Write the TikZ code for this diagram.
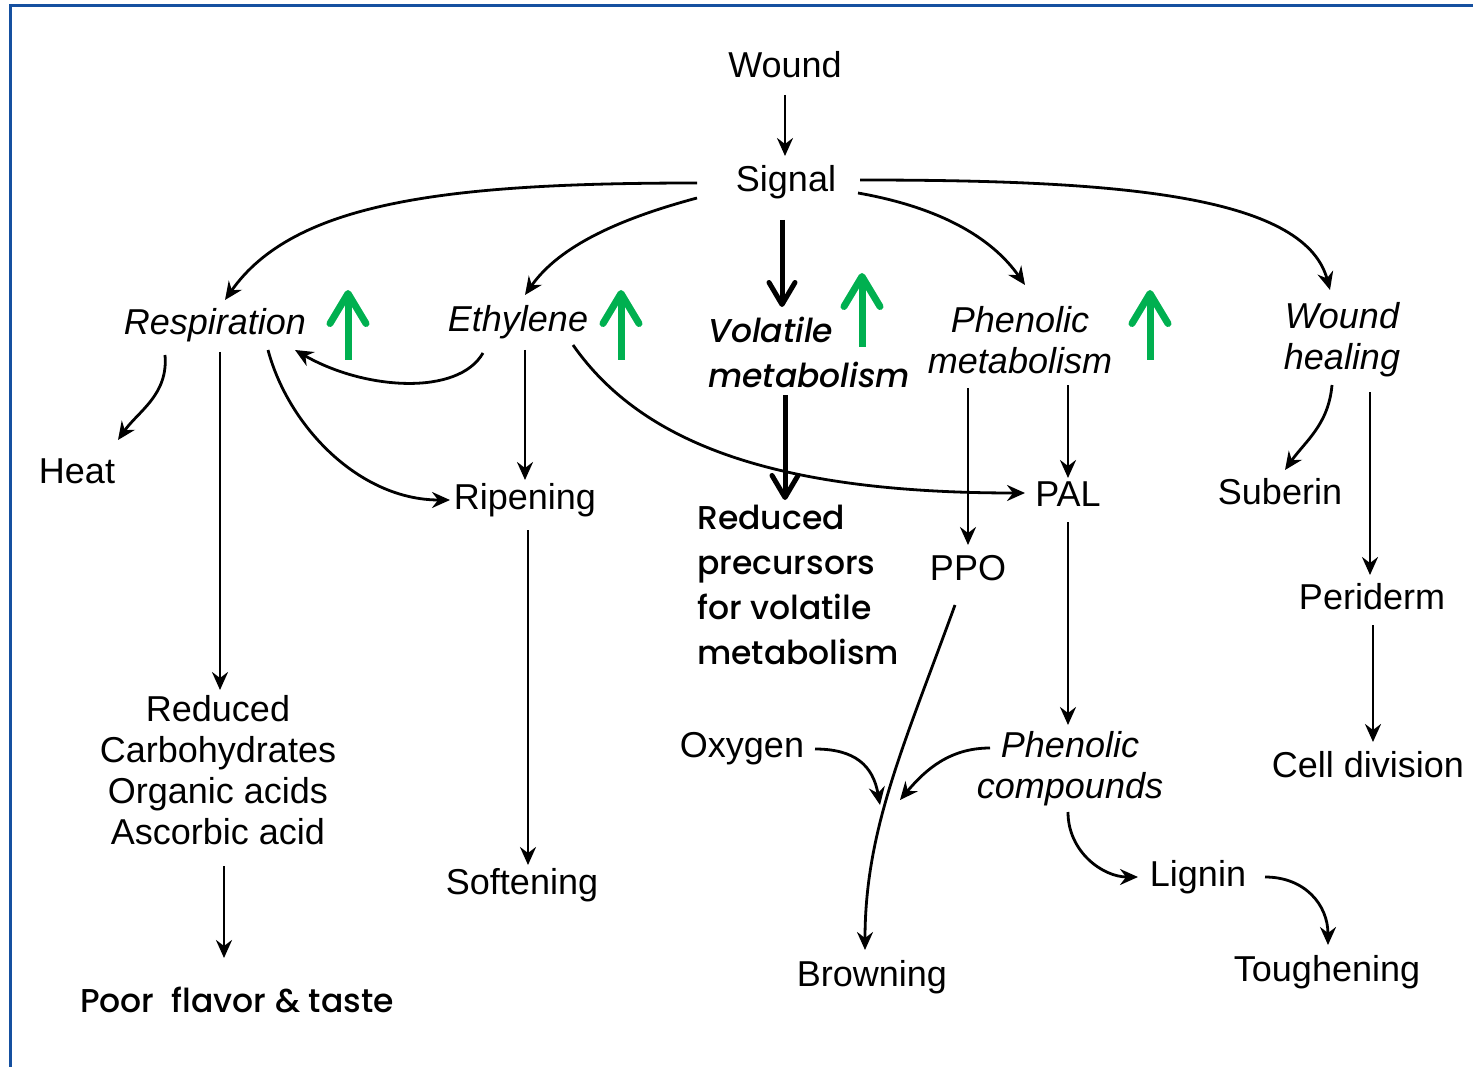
\documentclass[tikz,border=0pt]{standalone}
\usepackage{fontspec}
\setmainfont{Liberation Sans}
\newfontfamily\popfont{Poppins}[UprightFont=* Medium,ItalicFont=* Medium Italic]
\usetikzlibrary{arrows.meta}
\definecolor{frameblue}{RGB}{21,80,160}
\definecolor{upgreen}{RGB}{0,176,80}

\begin{document}
\begin{tikzpicture}[x=1pt,y=1pt]
	\tikzstyle{every node}+=[inner sep=0pt,font=\fontsize{36}{41}\selectfont]
	\tikzstyle{slant}=[font=\fontsize{36}{41}\selectfont\itshape]
	\tikzstyle{flow}=[line width=2.8pt,-{Stealth[length=18pt,width=16pt,inset=6pt]}]
	\tikzstyle{added}=[line width=5pt,-{Straight Barb[round,length=22pt,width=26pt]}]
	\tikzstyle{rise}=[upgreen,line width=7pt,-{Straight Barb[round,length=30pt,width=36pt]}]
	\tikzstyle{newtext}=[font=\popfont\fontsize{33}{45}\selectfont,align=left,anchor=west]
	\tikzstyle{newslant}=[newtext,font=\popfont\fontsize{33}{45}\selectfont\itshape]
	\useasboundingbox (0,0) rectangle (1473,-1067);
	\draw [frameblue,line width=3pt] (10.5,-1067) -- (10.5,-6) -- (1473,-6);
	% terms
	\draw (785,-65) node (wound) {Wound};
	\draw (786,-182) node (signal) {Signal};
	\draw (215,-325) node [slant] (resp) {Respiration};
	\draw (518,-322) node [slant] (eth) {Ethylene};
	\draw (708,-352) node [newslant] (vol) {Volatile\\metabolism};
	\draw (1020,-340) node [slant,align=center] (phen) {Phenolic\\metabolism};
	\draw (1342,-340) node [slant,align=center] (wheal) {Wound\\healing};
	\draw (77,-471) node (heat) {Heat};
	\draw (525,-500) node (ripe) {Ripening};
	\draw (1068,-494) node (pal) {PAL};
	\draw (1280,-492) node (suberin) {Suberin};
	\draw (697,-585) node [newtext] (prec) {Reduced\\precursors\\for volatile\\metabolism};
	\draw (968,-568) node (ppo) {PPO};
	\draw (1372,-597) node (peri) {Periderm};
	\draw (218,-770) node [align=center] (redu) {Reduced\\Carbohydrates\\Organic acids\\Ascorbic acid};
	\draw (742,-749) node (oxy) {Oxygen};
	\draw (1070,-769) node [slant,align=center] (phcomp) {Phenolic\\compounds};
	\draw (1368,-765) node (cell) {Cell division};
	\draw (522,-885) node (soft) {Softening};
	\draw (1198,-877) node (lignin) {Lignin};
	\draw (872,-977) node (brown) {Browning};
	\draw (1327,-972) node (tough) {Toughening};
	\draw (80,-1000) node [newtext] (poor) {Poor\ \ flavor \& taste};
	\coordinate (oxyin) at (880,-805);
	\coordinate (compin) at (900,-800);
	% connectors
	\draw [flow] ([yshift=-30pt]wound.center) -- ([xshift=-1pt,yshift=26pt]signal.center);
	\draw [flow] ([xshift=-89pt,yshift=-1pt]signal.center) .. controls +(180:250) and +(55:120) .. ([xshift=10pt,yshift=25pt]resp.center);
	\draw [flow] ([xshift=-89pt,yshift=-16pt]signal.center) .. controls +(195:80) and +(55:60) .. ([xshift=7pt,yshift=27pt]eth.center);
	\draw [added] ([xshift=-4pt,yshift=-38pt]signal.center) -- ([xshift=74pt,yshift=45pt]vol.west);
	\draw [flow] ([xshift=72pt,yshift=-11pt]signal.center) .. controls +(-10:80) and +(125:60) .. ([xshift=5pt,yshift=55pt]phen.center);
	\draw [flow] ([xshift=74pt,yshift=2pt]signal.center) .. controls +(0:250) and +(105:100) .. ([xshift=-12pt,yshift=50pt]wheal.center);
	\draw [flow] ([xshift=-50pt,yshift=-30pt]resp.center) .. controls +(-85:40) and +(55:35) .. ([xshift=41pt,yshift=31pt]heat.center);
	\draw [flow] ([xshift=5pt,yshift=-27pt]resp.center) -- ([xshift=2pt,yshift=80pt]redu.center);
	\draw [flow] ([xshift=53pt,yshift=-25pt]resp.center) .. controls +(-75:80) and +(180:90) .. ([xshift=-75pt]ripe.center);
	\draw [flow] ([xshift=-35pt,yshift=-31pt]eth.center) .. controls +(-120:50) and +(-30:80) .. ([xshift=80pt,yshift=-25pt]resp.center);
	\draw [flow] ([xshift=7pt,yshift=-28pt]eth.center) -- ([yshift=20pt]ripe.center);
	\draw [flow] ([xshift=55pt,yshift=-23pt]eth.center) .. controls +(-55:120) and +(180:250) .. ([xshift=-43pt,yshift=1pt]pal.center);
	\draw [flow] ([xshift=3pt,yshift=-30pt]ripe.center) -- ([xshift=6pt,yshift=20pt]soft.center);
	\draw [added] ([xshift=77pt,yshift=-43pt]vol.west) -- ([xshift=88pt,yshift=85pt]prec.west);
	\draw [flow] ([xshift=-52pt,yshift=-48pt]phen.center) -- ([yshift=23pt]ppo.center);
	\draw [flow] ([xshift=48pt,yshift=-45pt]phen.center) -- ([yshift=16pt]pal.center);
	\draw [flow] ([yshift=-28pt]pal.center) -- ([xshift=-2pt,yshift=44pt]phcomp.center);
	\draw [flow] ([xshift=-13pt,yshift=-37pt]ppo.center) .. controls +(-110:150) and +(90:120) .. ([xshift=-7pt,yshift=27pt]brown.center);
	\draw [flow] ([xshift=73pt]oxy.center) .. controls +(0:40) and +(100:40) .. (oxyin);
	\draw [flow] ([xshift=-80pt,yshift=21pt]phcomp.center) .. controls +(180:40) and +(50:40) .. (compin);
	\draw [flow] ([xshift=-2pt,yshift=-43pt]phcomp.center) .. controls +(-90:40) and +(180:35) .. ([xshift=-60pt]lignin.center);
	\draw [flow] ([xshift=67pt]lignin.center) .. controls +(0:40) and +(90:40) .. ([xshift=1pt,yshift=27pt]tough.center);
	\draw [flow] ([xshift=-10pt,yshift=-45pt]wheal.center) .. controls +(-95:40) and +(55:35) .. ([xshift=5pt,yshift=22pt]suberin.center);
	\draw [flow] ([xshift=28pt,yshift=-52pt]wheal.center) -- ([xshift=-2pt,yshift=22pt]peri.center);
	\draw [flow] ([xshift=1pt,yshift=-28pt]peri.center) -- ([xshift=5pt,yshift=23pt]cell.center);
	\draw [flow] ([xshift=6pt,yshift=-96pt]redu.center) -- ([xshift=144pt,yshift=42pt]poor.west);
	% increase marks
	\foreach \x/\y/\h in {348/360/70,621/360/70,862/347/74,1150/360/70}
		\draw [rise] (\x,-\y) -- ++(0,\h);
\end{tikzpicture}
\end{document}
